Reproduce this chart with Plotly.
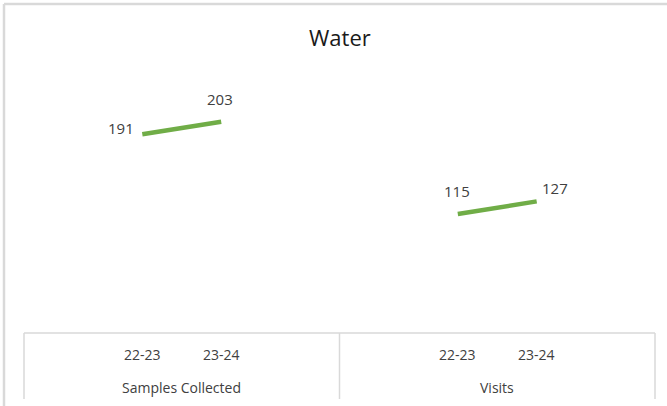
import plotly.graph_objects as go

title = "Water"
groups = ["Samples Collected", "Visits"]
periods = ["22-23", "23-24"]
samples_values = [191, 203]
visits_values = [115, 127]
line_color = "#70AD47"

# Layout: 4 category slots per group (outer slots blank), numeric x axis 0..8
slots_per_group = 4
series = [samples_values, visits_values]

W, H = 667, 406
L, R, T, B = 24, 12, 70, 73
pw, ph = W - L - R, H - T - B

def px_x(p):
    return (p - L) / pw

def px_y(p):
    return (H - B - p) / ph

fig = go.Figure()
annotations = []
label_offsets = [[(-21, 6), (-1, 23)], [(-1, 23), (18, 13)]]
txt = "#404040"
fam = "Open Sans"

for g, (name, vals) in enumerate(zip(groups, series)):
    xs = [g * slots_per_group + 1.5 + i for i in range(len(periods))]
    fig.add_trace(go.Scatter(x=xs, y=vals, mode="lines",
                             line=dict(color=line_color, width=4.5),
                             hoverinfo="skip", showlegend=False))
    for i, (x, v) in enumerate(zip(xs, vals)):
        dx, dy = label_offsets[g][i]
        annotations.append(dict(x=x, y=v, xref="x", yref="y", text=str(v),
                                showarrow=False, xshift=dx, yshift=dy,
                                font=dict(size=15, color=txt, family=fam)))
        annotations.append(dict(x=x, y=px_y(354), xref="x", yref="paper", text=periods[i],
                                showarrow=False, yanchor="middle",
                                font=dict(size=14, color=txt, family=fam)))
    annotations.append(dict(x=g * slots_per_group + slots_per_group / 2, y=px_y(387),
                            xref="x", yref="paper", text=name, showarrow=False,
                            yanchor="middle",
                            font=dict(size=14, color=txt, family=fam)))

annotations.append(dict(x=0.5, y=px_y(37), xref="paper", yref="paper", text=title,
                        showarrow=False, yanchor="middle",
                        font=dict(size=22, color="#1a1a1a", family=fam)))

grid = "#D9D9D9"
shapes = []
# axis box
shapes.append(dict(type="line", xref="paper", yref="paper", x0=0, x1=1,
                   y0=0, y1=0, line=dict(color=grid, width=1.5)))
for xp in [0, 0.5, 1]:
    shapes.append(dict(type="line", xref="paper", yref="paper", x0=xp, x1=xp,
                       y0=0, y1=px_y(399), line=dict(color=grid, width=1.5)))
# outer chart border (top & left visible)
shapes.append(dict(type="line", xref="paper", yref="paper", x0=px_x(4), x1=px_x(700),
                   y0=px_y(4), y1=px_y(4), line=dict(color=grid, width=2.5)))
shapes.append(dict(type="line", xref="paper", yref="paper", x0=px_x(4), x1=px_x(4),
                   y0=px_y(4), y1=px_y(420), line=dict(color=grid, width=2.5)))

fig.update_layout(
    width=W, height=H,
    margin=dict(l=L, r=R, t=T, b=B),
    paper_bgcolor="white", plot_bgcolor="white",
    xaxis=dict(range=[0, 2 * slots_per_group], visible=False, fixedrange=True),
    yaxis=dict(range=[1.5, 252.3], visible=False, fixedrange=True),
    annotations=annotations, shapes=shapes,
)

fig.write_html("out.html", config={"displayModeBar": False},
               post_script="document.body.style.margin='0';document.body.style.overflow='hidden';")
